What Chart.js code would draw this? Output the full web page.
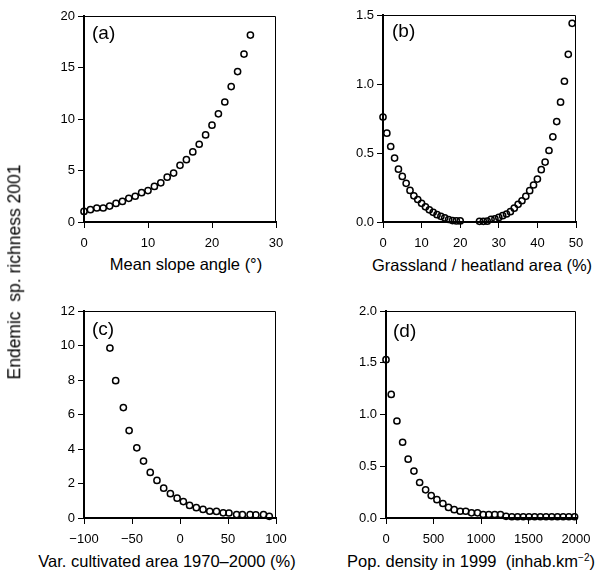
<!DOCTYPE html>
<html><head><meta charset="utf-8">
<script src="https://cdn.jsdelivr.net/npm/chart.js@4"></script>
<style>
html,body{margin:0;padding:0;background:#fff;}
body{width:600px;height:573px;position:relative;overflow:hidden;font-family:"Liberation Sans",Arial,Helvetica,sans-serif;color:#000;}
canvas{position:absolute;}
.t{position:absolute;white-space:nowrap;line-height:1;transform:translate(-50%,-50%);}
.p{position:absolute;white-space:nowrap;line-height:1;transform:translateY(-50%);font-size:19px;}
</style></head><body>
<canvas id="ca"></canvas><canvas id="cb"></canvas><canvas id="cc"></canvas><canvas id="cd"></canvas>
<div class="t" style="left:15px;top:272px;font-size:17.5px;transform:translate(-50%,-50%) rotate(-90deg);">Endemic&nbsp; sp. richness 2001</div>
<div class="t" style="left:186px;top:264px;font-size:16.5px;">Mean slope angle (°)</div>
<div class="t" style="left:482px;top:265px;font-size:16.5px;">Grassland / heatland area (%)</div>
<div class="t" style="left:167px;top:561px;font-size:16.5px;">Var. cultivated area 1970–2000 (%)</div>
<div class="t" style="left:471px;top:561px;font-size:16.5px;">Pop. density in 1999&nbsp; (inhab.km<sup style="font-size:10px;vertical-align:6px;">−2</sup>)</div>
<div class="p" style="left:92px;top:32px;">(a)</div>
<div class="p" style="left:392px;top:30px;">(b)</div>
<div class="p" style="left:92px;top:328px;">(c)</div>
<div class="p" style="left:393px;top:330px;">(d)</div>
<script>
// ---- Panel (a): mean slope angle ----
const slopeAngle = [0,1,2,3,4,5,6,7,8,9,10,11,12,13,14,15,16,17,18,19,20,21,22,23,24,25,26];
const slopeRichness = [1.03,1.2,1.36,1.36,1.55,1.8,2.0,2.3,2.5,2.85,3.05,3.45,3.8,4.35,4.75,5.5,6.05,6.8,7.55,8.45,9.4,10.5,11.65,13.15,14.6,16.3,18.15];
const slopeTicksX = [0,10,20,30];
const slopeTicksY = [0,5,10,15,20];

// ---- Panel (b): grassland / heatland area ----
const grassArea = [0,1,2,3,4,5,6,7,8,9,10,11,12,13,14,15,16,17,18,19,20,
  25,26,27,28,29,30,31,32,33,34,35,36,37,38,39,40,41,42,43,44,45,46,47,48,49];
const grassRichness = [0.76,0.644,0.547,0.463,0.383,0.33,0.28,0.229,0.19,0.163,0.135,0.11,0.088,0.07,0.053,0.041,0.03,0.018,0.01,0.008,0.008,
  0.005,0.005,0.006,0.02,0.022,0.033,0.046,0.058,0.075,0.1,0.128,0.154,0.186,0.227,0.268,0.311,0.379,0.434,0.518,0.617,0.728,0.868,1.02,1.215,1.44];
const grassTicksX = [0,10,20,30,40,50];
const grassTicksY = [0,0.5,1.0,1.5];

// ---- Panel (c): variation of cultivated area ----
const cultVar = [-73,-67,-59,-53,-45,-38,-31,-24,-17,-10,-3,3.5,10,17,24,31,38,45,51,59,65,73,79,87,93];
const cultRichness = [9.85,7.96,6.4,5.07,4.07,3.3,2.64,2.18,1.73,1.41,1.15,0.95,0.73,0.6,0.5,0.39,0.38,0.3,0.29,0.2,0.19,0.19,0.18,0.19,0.1];
const cultTicksX = [-100,-50,0,50,100];
const cultTicksY = [0,2,4,6,8,10,12];

// ---- Panel (d): population density ----
const popDensity = [0,55,115,175,233,294,354,417,476,536,599,658,718,781,840,900,963,1023,1082,1145,1205,1264,1325,1385,1445,1505,1565,1625,1685,1745,1805,1865,1925,1985];
const popRichness = [1.53,1.194,0.937,0.732,0.568,0.453,0.343,0.272,0.217,0.177,0.14,0.102,0.08,0.065,0.065,0.05,0.05,0.034,0.034,0.034,0.034,0.016,0.012,0.012,0.012,0.012,0.012,0.012,0.012,0.012,0.012,0.012,0.012,0.012];
const popTicksX = [0,500,1000,1500,2000];
const popTicksY = [0,0.5,1.0,1.5,2.0];

const FONT = '"Liberation Sans", Arial, Helvetica, sans-serif';
const fmtInt = v => v < 0 ? '\u2212' + Math.abs(v) : String(v);
const fmt1 = v => v.toFixed(1);

const framePlugin = {
  id: 'frame',
  afterDraw(chart) {
    const a = chart.chartArea, ctx = chart.ctx;
    ctx.save();
    ctx.strokeStyle = '#000';
    ctx.lineWidth = 1;
    ctx.beginPath();
    ctx.moveTo(a.left, a.top + 0.5);
    ctx.lineTo(a.right - 0.5, a.top + 0.5);
    ctx.lineTo(a.right - 0.5, a.bottom);
    ctx.stroke();
    ctx.restore();
  }
};

function makePanel(id, box, area, xs, ys, xTicks, yTicks, fx, fy) {
  const c = document.getElementById(id);
  c.style.left = box.l + 'px';
  c.style.top = box.t + 'px';
  c.width = box.w; c.height = box.h;
  const tickFont = { family: FONT, size: 13 };
  const grid = { display: true, drawOnChartArea: false, drawTicks: true, tickLength: 6, color: '#000', lineWidth: 1 };
  new Chart(c, {
    type: 'scatter',
    data: { datasets: [{
      data: xs.map((x, i) => ({ x: x, y: ys[i] })),
      pointStyle: 'circle', pointRadius: 3.1, pointBorderWidth: 1.5,
      borderColor: '#000', backgroundColor: 'rgba(255,255,255,0)',
      pointBackgroundColor: 'rgba(255,255,255,0)', pointBorderColor: '#000',
      clip: false
    }] },
    options: {
      responsive: false, animation: false, events: [],
      layout: { padding: { left: 0, bottom: 0, top: area.t - box.t, right: box.l + box.w - area.r } },
      plugins: { legend: { display: false }, tooltip: { enabled: false } },
      scales: {
        x: {
          type: 'linear', min: xTicks[0], max: xTicks[xTicks.length - 1],
          afterBuildTicks: s => { s.ticks = xTicks.map(v => ({ value: v })); },
          afterFit: s => { s.height = box.t + box.h - area.b; },
          grid: grid, border: { display: true, color: '#000', width: 2 },
          ticks: { font: tickFont, color: '#000', padding: 8, maxRotation: 0, autoSkip: false, callback: v => fx(v) }
        },
        y: {
          type: 'linear', min: yTicks[0], max: yTicks[yTicks.length - 1],
          afterBuildTicks: s => { s.ticks = yTicks.map(v => ({ value: v })); },
          afterFit: s => { s.width = area.l - box.l; },
          grid: grid, border: { display: true, color: '#000', width: 2 },
          ticks: { font: tickFont, color: '#000', padding: 3, autoSkip: false, callback: v => fy(v) }
        }
      }
    },
    plugins: [framePlugin]
  });
}

makePanel('ca', { l: 0, t: 0, w: 300, h: 250 }, { l: 84, t: 16, r: 276, b: 222 },
  slopeAngle, slopeRichness, slopeTicksX, slopeTicksY, fmtInt, fmtInt);
makePanel('cb', { l: 300, t: 0, w: 300, h: 250 }, { l: 383, t: 15, r: 576, b: 222 },
  grassArea, grassRichness, grassTicksX, grassTicksY, fmtInt, fmt1);
makePanel('cc', { l: 0, t: 290, w: 300, h: 255 }, { l: 84, t: 311, r: 276, b: 518 },
  cultVar, cultRichness, cultTicksX, cultTicksY, fmtInt, fmtInt);
makePanel('cd', { l: 300, t: 290, w: 300, h: 255 }, { l: 386, t: 311, r: 576, b: 518 },
  popDensity, popRichness, popTicksX, popTicksY, fmtInt, fmt1);
</script>
</body></html>
